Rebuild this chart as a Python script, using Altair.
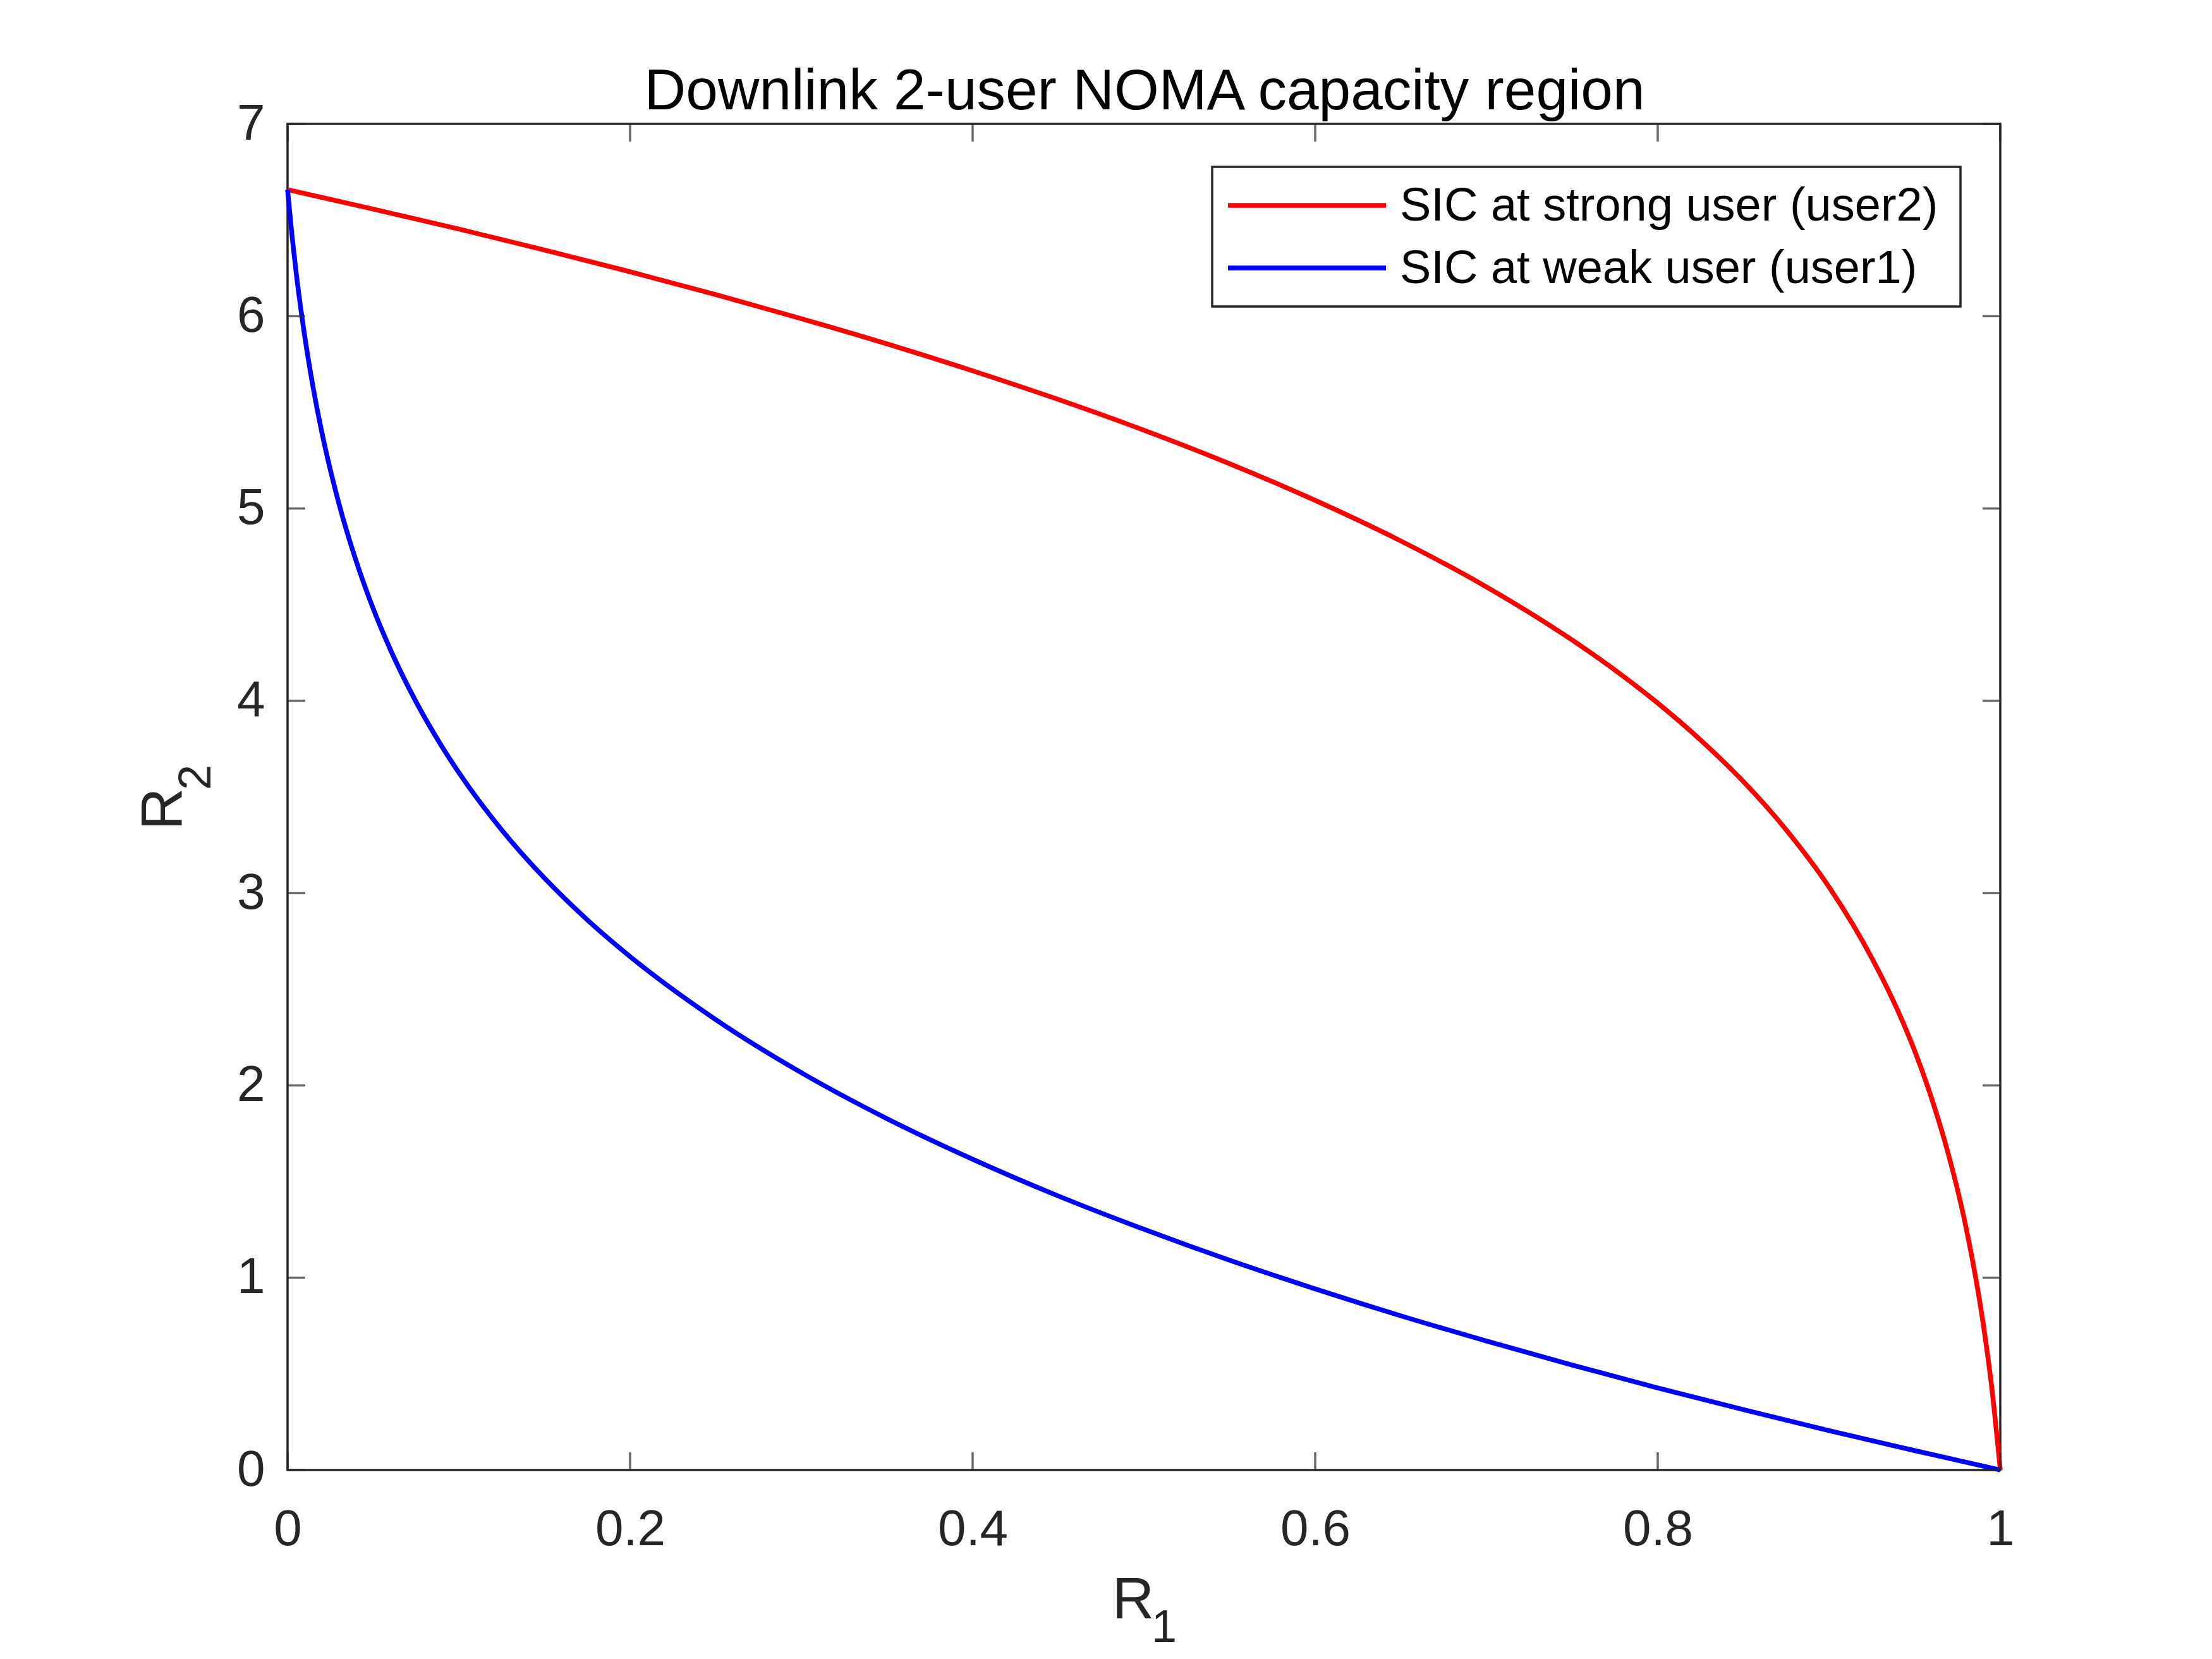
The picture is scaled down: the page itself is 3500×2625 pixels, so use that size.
import altair as alt
import pandas as pd

FONT = "Liberation Sans"

# ---- data ----
series_names = ["SIC at strong user (user2)", "SIC at weak user (user1)"]
series_colors = ["#FF0000", "#0000FF"]

strong_r1 = [0.0, 0.05, 0.1, 0.15, 0.2, 0.25, 0.3, 0.35, 0.4, 0.45, 0.5, 0.55, 0.6,
             0.65, 0.7, 0.75, 0.775, 0.8, 0.825, 0.85, 0.875, 0.9, 0.925, 0.94, 0.95,
             0.96, 0.97, 0.98, 0.99, 0.995, 1.0]
strong_r2 = [6.658, 6.557, 6.453, 6.344, 6.231, 6.112, 5.987, 5.856, 5.716, 5.567, 5.407,
             5.233, 5.042, 4.831, 4.592, 4.316, 4.160, 3.988, 3.796, 3.580, 3.329, 3.032,
             2.662, 2.392, 2.180, 1.930, 1.632, 1.261, 0.762, 0.430, 0.0]

weak_r1 = [0.0, 0.0025, 0.005, 0.01, 0.015, 0.02, 0.03, 0.04, 0.05, 0.06, 0.075, 0.09,
           0.1, 0.125, 0.15, 0.175, 0.2, 0.25, 0.3, 0.35, 0.4, 0.45, 0.5, 0.55, 0.6,
           0.65, 0.7, 0.75, 0.8, 0.85, 0.9, 0.95, 1.0]
weak_r2 = [6.658, 6.427, 6.228, 5.897, 5.626, 5.397, 5.025, 4.728, 4.480, 4.267, 3.995,
           3.764, 3.627, 3.329, 3.078, 2.861, 2.670, 2.342, 2.066, 1.827, 1.616, 1.425,
           1.252, 1.091, 0.942, 0.802, 0.671, 0.546, 0.427, 0.314, 0.205, 0.101, 0.0]

x_ticks = [0, 0.2, 0.4, 0.6, 0.8, 1.0]
y_ticks = [0, 1, 2, 3, 4, 5, 6, 7]

title_text = "Downlink 2-user NOMA capacity region"

# ---- layout ----
W, H = 2710, 2130
AX = "#262626"
TICK = 28

rows = []
for i, (a, b) in enumerate(zip(strong_r1, strong_r2)):
    rows.append({"R1": a, "R2": b, "series": series_names[0], "order": i})
for i, (a, b) in enumerate(zip(weak_r1, weak_r2)):
    rows.append({"R1": a, "R2": b, "series": series_names[1], "order": i})
df = pd.DataFrame(rows)

xscale = alt.Scale(domain=[0, 1], nice=False, zero=False)
yscale = alt.Scale(domain=[0, 7], nice=False)

axis_common = dict(domain=False, ticks=False, grid=False, labelFont=FONT,
                   labelFontSize=80, labelColor=AX, title=None, labelFlush=False,
                   labelOverlap=False, labelBound=False)

lines = alt.Chart(df).mark_line(strokeWidth=7.5, interpolate="monotone").encode(
    x=alt.X("R1:Q", scale=xscale,
            axis=alt.Axis(values=x_ticks, format="~g", labelPadding=55, **axis_common)),
    y=alt.Y("R2:Q", scale=yscale,
            axis=alt.Axis(values=y_ticks, format="d", labelPadding=36, **axis_common)),
    color=alt.Color("series:N", scale=alt.Scale(domain=series_names, range=series_colors),
                    legend=None),
    order="order:Q",
)

xt = pd.DataFrame({"v": x_ticks})
yt = pd.DataFrame({"v": y_ticks})

tick_bottom = alt.Chart(xt).mark_tick(orient="vertical", size=TICK, thickness=3.5, color=AX).encode(
    x=alt.X("v:Q", scale=xscale), y=alt.value(H - TICK / 2))
tick_top = alt.Chart(xt).mark_tick(orient="vertical", size=TICK, thickness=3.5, color=AX).encode(
    x=alt.X("v:Q", scale=xscale), y=alt.value(TICK / 2))
tick_left = alt.Chart(yt).mark_tick(orient="horizontal", size=TICK, thickness=3.5, color=AX).encode(
    y=alt.Y("v:Q", scale=yscale), x=alt.value(TICK / 2))
tick_right = alt.Chart(yt).mark_tick(orient="horizontal", size=TICK, thickness=3.5, color=AX).encode(
    y=alt.Y("v:Q", scale=yscale), x=alt.value(W - TICK / 2))

one = pd.DataFrame({"k": [0]})


def txt(text, x, y, size, color="black", angle=0, align="center", baseline="alphabetic"):
    kw = dict(text=text, fontSize=size, font=FONT, color=color, align=align, baseline=baseline)
    if angle:
        kw["angle"] = angle
    return alt.Chart(one).mark_text(**kw).encode(x=alt.value(x), y=alt.value(y))


title = txt(title_text, 1356, -23, 91)
xlab_r = txt("R", 1338, 2365, 92, color=AX)
xlab_s = txt("1", 1387, 2402, 72, color=AX)
ylab_r = txt("R", -167, 1084, 92, color=AX, angle=270)
ylab_s = txt("2", -122, 1034, 72, color=AX, angle=270)

# legend box
LX0, LX1, LY0, LY1 = 1463, 2647, 68, 289
legend_box = alt.Chart(one).mark_rect(fill="white", stroke=AX, strokeWidth=3.5).encode(
    x=alt.value(LX0), x2=alt.value(LX1), y=alt.value(LY0), y2=alt.value(LY1))
legend_layers = [legend_box]
row_y = [129, 228]
for i, name in enumerate(series_names):
    legend_layers.append(
        alt.Chart(one).mark_rule(strokeWidth=7.5, color=series_colors[i]).encode(
            x=alt.value(1488), x2=alt.value(1738), y=alt.value(row_y[i]))
    )
    legend_layers.append(txt(name, 1760, row_y[i] + 2, 74, align="left", baseline="middle"))

chart = alt.layer(
    lines, tick_bottom, tick_top, tick_left, tick_right,
    title, xlab_r, xlab_s, ylab_r, ylab_s, *legend_layers
).properties(
    width=W, height=H,
    autosize=alt.AutoSizeParams(type="none"),
    padding={"left": 447, "top": 188, "right": 300, "bottom": 290},
    background="white",
).configure_view(
    stroke=AX, strokeWidth=3.5
)

chart.save("out.html", embed_options={"renderer": "svg", "actions": False})
